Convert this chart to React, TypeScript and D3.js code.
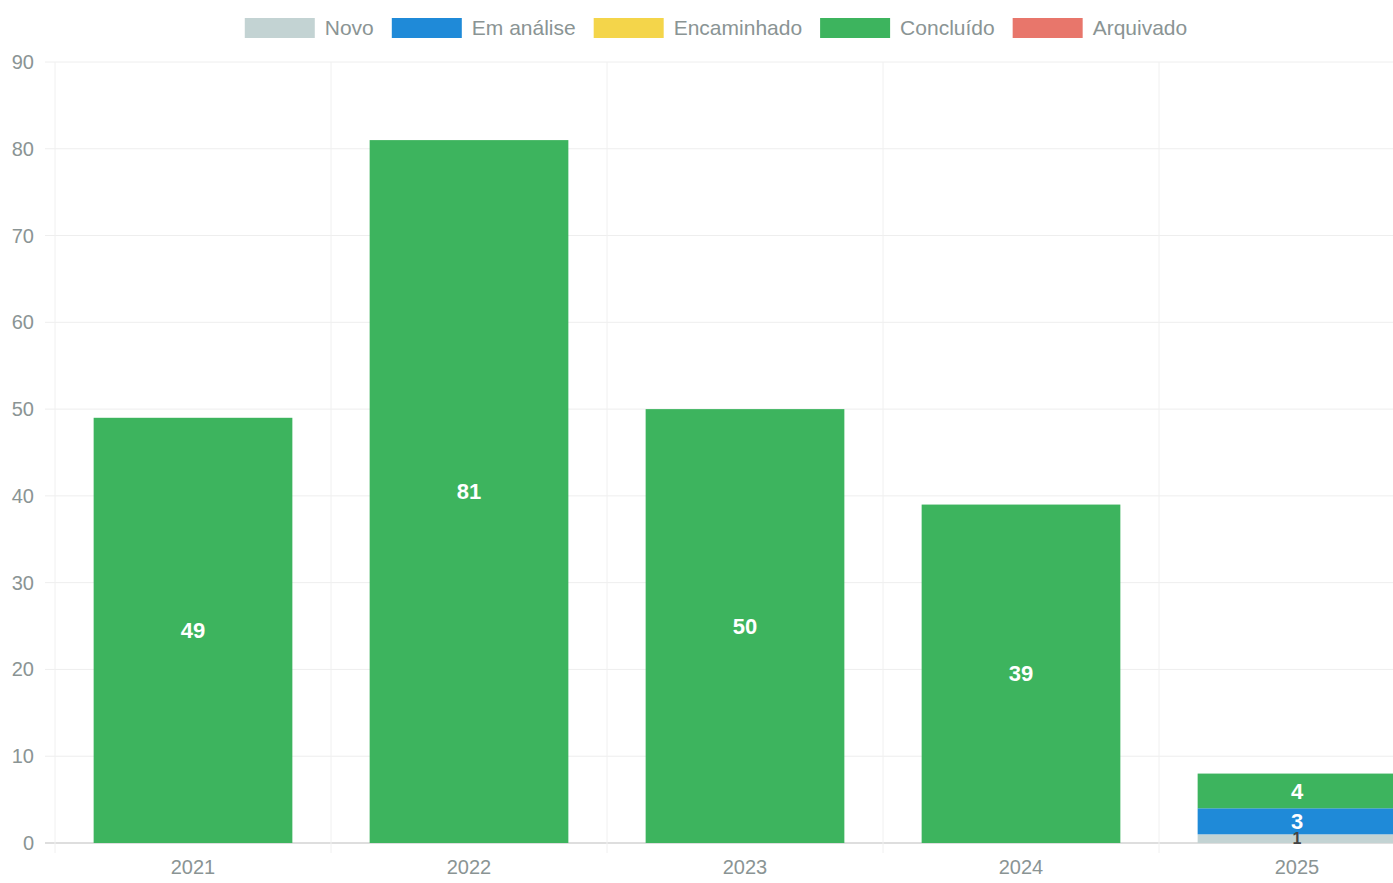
import React from "react";
import * as d3 from "d3";

const years = ["2021", "2022", "2023", "2024", "2025"];
const seriesNames = ["Novo", "Em análise", "Encaminhado", "Concluído", "Arquivado"];
const novo = [0, 0, 0, 0, 1];
const emAnalise = [0, 0, 0, 0, 3];
const encaminhado = [0, 0, 0, 0, 0];
const concluido = [49, 81, 50, 39, 4];
const arquivado = [0, 0, 0, 0, 0];
const yTicks = [0, 10, 20, 30, 40, 50, 60, 70, 80, 90];

const colors = ["#c3d3d3", "#1f8ad8", "#f4d54a", "#3db45e", "#e8766b"];
const labelColors = ["#444", "#fff", "#fff", "#fff", "#fff"];

const W = 1393;
const H = 883;
const left = 55;
const right = 1435;
const top = 62;
const bottom = 843;
const FONT = "'Liberation Sans', Arial, Helvetica, sans-serif";

function measure(text: string, size: number) {
  if (typeof document === "undefined") return text.length * size * 0.5;
  const c = document.createElement("canvas").getContext("2d");
  if (!c) return text.length * size * 0.5;
  c.font = `${size}px ${FONT}`;
  return c.measureText(text).width;
}

export default function App() {
  const seriesValues = [novo, emAnalise, encaminhado, concluido, arquivado];
  const rows = years.map((y, i) => {
    const r: any = { year: y };
    seriesNames.forEach((s, k) => (r[s] = seriesValues[k][i]));
    return r;
  });
  const stack = d3.stack<any>().keys(seriesNames)(rows);

  const x = d3.scaleBand<string>().domain(years).range([left, right]).padding(0);
  const y = d3.scaleLinear().domain([0, 90]).range([bottom, top]);
  const bw = x.bandwidth() * 0.72;

  const legendSize = 21;
  const boxW = 70;
  const boxH = 20;
  const itemGap = 18;
  const widths = seriesNames.map((s) => boxW + 10 + measure(s, legendSize));
  const total = d3.sum(widths) + itemGap * (widths.length - 1);
  let cx = 716 - total / 2;
  const legendX = widths.map((w) => {
    const p = cx;
    cx += w + itemGap;
    return p;
  });

  return (
    <svg
      width={W}
      height={H}
      style={{ position: "fixed", left: 0, top: 0, background: "#fff" }}
      fontFamily={FONT}
    >
      <rect width={W} height={H} fill="#fff" />
      {yTicks.map((t) => (
        <line
          key={"g" + t}
          x1={left - 10}
          x2={W}
          y1={y(t)}
          y2={y(t)}
          stroke={t === 0 ? "#bdbdbd" : "#eeeeee"}
          strokeWidth={1}
        />
      ))}
      {years.map((yr) => (
        <line
          key={"v" + yr}
          x1={x(yr)!}
          x2={x(yr)!}
          y1={top}
          y2={bottom + 10}
          stroke="#f0f0f0"
        />
      ))}
      {yTicks.map((t) => (
        <text
          key={"t" + t}
          x={34}
          y={y(t)}
          dy="0.35em"
          textAnchor="end"
          fontSize={20}
          fill="#8a9494"
        >
          {t}
        </text>
      ))}
      {years.map((yr) => (
        <text
          key={"x" + yr}
          x={x(yr)! + x.bandwidth() / 2}
          y={bottom + 24}
          dy="0.35em"
          textAnchor="middle"
          fontSize={20}
          fill="#8a9494"
        >
          {yr}
        </text>
      ))}
      {stack.map((layer, k) =>
        layer.map((d, i) => {
          const v = d[1] - d[0];
          if (v <= 0) return null;
          const bx = x(years[i])! + (x.bandwidth() - bw) / 2;
          return (
            <rect
              key={`b${k}-${i}`}
              x={bx}
              y={y(d[1])}
              width={bw}
              height={y(d[0]) - y(d[1])}
              fill={colors[k]}
            />
          );
        })
      )}
      {stack.map((layer, k) =>
        layer.map((d, i) => {
          const v = d[1] - d[0];
          if (v <= 0) return null;
          return (
            <text
              key={`l${k}-${i}`}
              x={x(years[i])! + x.bandwidth() / 2}
              y={y((d[0] + d[1]) / 2)}
              dy="0.35em"
              textAnchor="middle"
              fontSize={v < 2 ? 16 : 22}
              fontWeight="bold"
              fill={labelColors[k]}
            >
              {v}
            </text>
          );
        })
      )}
      {seriesNames.map((s, k) => (
        <g key={"lg" + s} transform={`translate(${legendX[k]},${18})`}>
          <rect width={boxW} height={boxH} fill={colors[k]} />
          <text
            x={boxW + 10}
            y={boxH / 2}
            dy="0.35em"
            fontSize={legendSize}
            fill="#8a9494"
          >
            {s}
          </text>
        </g>
      ))}
    </svg>
  );
}
